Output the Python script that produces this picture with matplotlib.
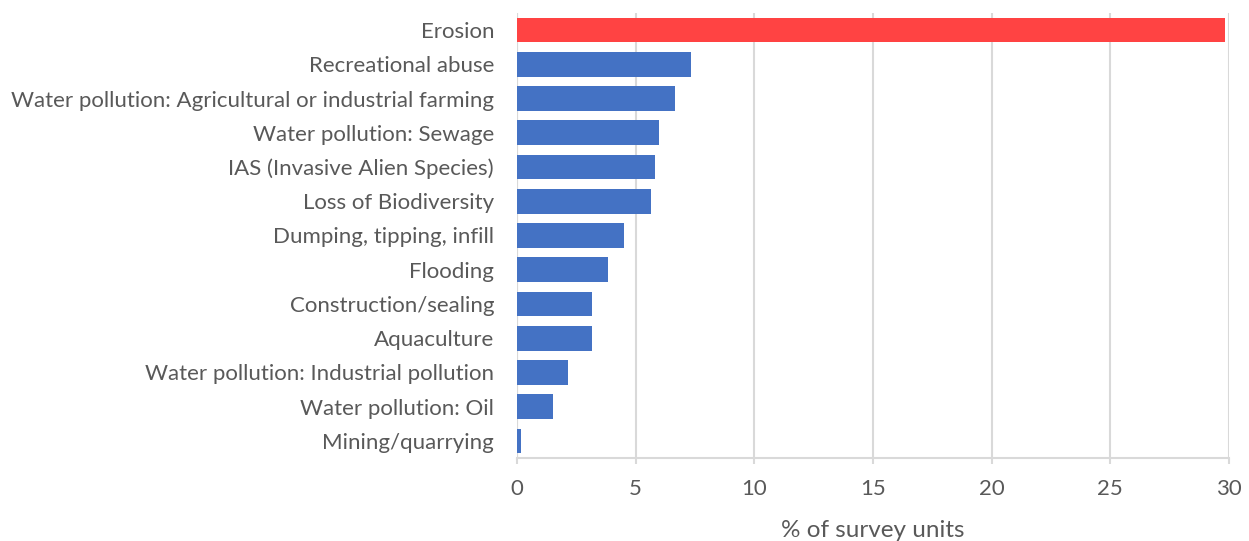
import matplotlib.pyplot as plt

# threats, top to bottom
categories = [
    "Erosion",
    "Recreational abuse",
    "Water pollution: Agricultural or industrial farming",
    "Water pollution: Sewage",
    "IAS (Invasive Alien Species)",
    "Loss of Biodiversity",
    "Dumping, tipping, infill",
    "Flooding",
    "Construction/sealing",
    "Aquaculture",
    "Water pollution: Industrial pollution",
    "Water pollution: Oil",
    "Mining/quarrying",
]
values = [29.82, 7.33, 6.67, 6.0, 5.83, 5.66, 4.5, 3.83, 3.17, 3.17, 2.16, 1.5, 0.17]
xticks = [0, 5, 10, 15, 20, 25, 30]

plt.rcParams['font.family'] = ['Lato', 'DejaVu Sans']
text_col = '#595959'
grid_col = '#D9D9D9'

fig = plt.figure(figsize=(12.49, 5.41), dpi=100)
ax = fig.add_axes([517 / 1249, 1 - 458 / 541, 712 / 1249, 445 / 541])

colors = ['#FF4343'] + ['#4472C4'] * (len(values) - 1)
pos = list(range(len(categories)))
ax.barh(pos, values, height=0.72, color=colors, zorder=3)

ax.set_xlim(0, 30)
ax.set_ylim(len(categories) - 0.5, -0.5)
ax.set_xticks(xticks)
ax.set_yticks(pos)
ax.set_yticklabels(categories)

ax.grid(axis='x', color=grid_col, linewidth=1.5, zorder=0)
for s in ['top', 'right', 'left']:
    ax.spines[s].set_visible(False)
ax.spines['bottom'].set_color(grid_col)
ax.spines['bottom'].set_linewidth(1.5)
ax.axvline(0, color=grid_col, linewidth=1.5, zorder=2)

ax.tick_params(axis='y', length=0, pad=16.5, labelsize=16, labelcolor=text_col)
ax.tick_params(axis='x', length=4, width=1.5, color=grid_col, pad=11,
               labelsize=16, labelcolor=text_col)
ax.set_xlabel('% of survey units', fontsize=17.5, color=text_col, labelpad=15)

fig.savefig('out.png', dpi=100)
